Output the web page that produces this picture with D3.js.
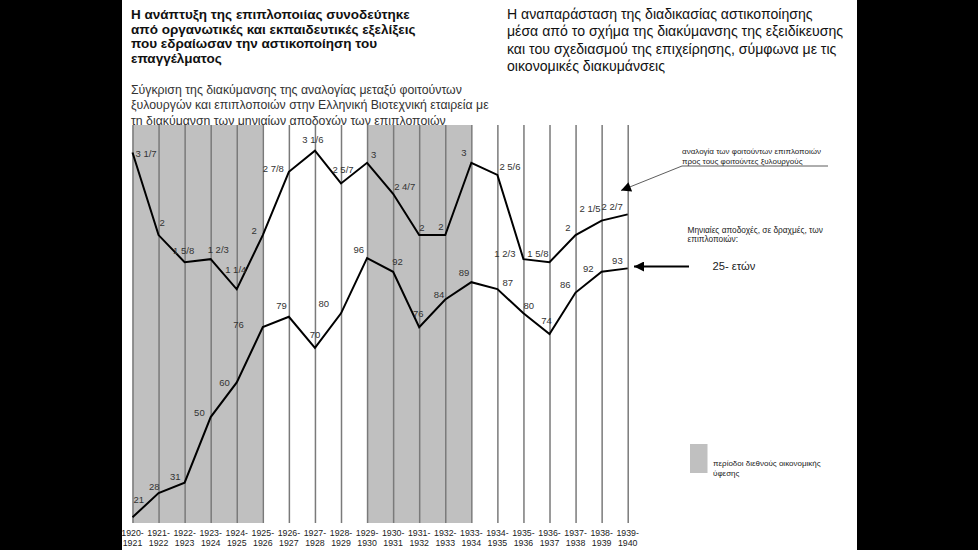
<!DOCTYPE html>
<html><head><meta charset="utf-8">
<script src="https://cdn.jsdelivr.net/npm/d3@7"></script>
<style>
html,body{margin:0;padding:0;background:#000;}
svg{display:block;font-family:"Liberation Sans",Arial,sans-serif;}
</style></head>
<body>
<svg id="chart" width="978" height="550"></svg>
<script>
// ---------- data ----------
const categories = ["1920-1921","1921-1922","1922-1923","1923-1924","1924-1925","1925-1926","1926-1927","1927-1928","1928-1929","1929-1930","1930-1931","1931-1932","1932-1933","1933-1934","1934-1935","1935-1936","1936-1937","1937-1938","1938-1939","1939-1940"];
const ratioLabels = ["3 1/7","2","1 5/8","1 2/3","1 1/4","2","2 7/8","3 1/6","2 5/7","3","2 4/7","2","2","3","2 5/6","1 2/3","1 5/8","2","2 1/5","2 2/7"];
const ratioValues = [3.143,2,1.625,1.667,1.25,2,2.875,3.167,2.714,3,2.571,2,2,3,2.833,1.667,1.625,2,2.2,2.286];
const wageValues = [21,28,31,50,60,76,79,70,80,96,92,76,84,89,87,80,74,86,92,93];
const recessions = [["1920-1921","1925-1926"],["1929-1930","1933-1934"]];

const titleLeft = ["Η ανάπτυξη της επιπλοποιίας συνοδεύτηκε","από οργανωτικές και εκπαιδευτικές εξελίξεις","που εδραίωσαν την αστικοποίηση του","επαγγέλματος"];
const subtitle = ["Σύγκριση της διακύμανσης της αναλογίας μεταξύ φοιτούντων","ξυλουργών και επιπλοποιών στην Ελληνική Βιοτεχνική εταιρεία με","τη διακύμανση των μηνιαίων αποδοχών των επιπλοποιών"];
const titleRight = ["Η αναπαράσταση της διαδικασίας αστικοποίησης","μέσα από το σχήμα της διακύμανσης της εξειδίκευσης","και του σχεδιασμού της επιχείρησης, σύμφωνα με τις","οικονομικές διακυμάνσεις"];
const ratioNote = ["αναλογία των φοιτούντων επιπλοποιών","προς τους φοιτούντες ξυλουργούς"];
const wageNote = ["Μηνιαίες αποδοχές, σε δραχμές, των","επιπλοποιών:"];
const wageNote2 = "25-  ετών";
const legendText = ["περίοδοι διεθνούς οικονομικής","ύφεσης"];

// ---------- layout (label placement relative to points) ----------
const ratioLabelPos = [["start",3,1],["start",1,-13],["middle",-1,-12],["start",-3,-10],["middle",-1,-20],["end",-6,-5],["end",-5,-3],["middle",-2,-11],["middle",2,-14],["start",4,-8],["start",1,-7],["start",0,-8],["start",-7,-9],["start",-10,-10],["start",2,-8],["end",-8,-6],["end",-1,-9],["end",-5,-8],["end",-1,-12],["end",-5,-8]];
const wageLabelPos = [["start",1,-18],["end",1,-7],["end",-4,-6],["end",-6,-5],["end",-7,0],["end",-19,-3],["end",-2,-11],["middle",0,-13],["end",-12,-10],["end",-3,-9],["start",-1,-10],["middle",-1,-14],["end",-1,-5],["end",-2,-10],["start",5,-7],["start",0,-8],["middle",-3,-14],["end",-5,-8],["end",-8,-3],["end",-5,-8]];

const svg = d3.select("#chart");
// slide background
svg.append("rect").attr("x",0).attr("y",0).attr("width",978).attr("height",550).attr("fill","#000");
svg.append("rect").attr("x",122).attr("y",0).attr("width",735).attr("height",550).attr("fill","#fff");

// titles
const tl = svg.append("text").attr("font-size",13.5).attr("font-weight","bold").attr("fill","#111");
titleLeft.forEach((t,i)=>tl.append("tspan").attr("x",131).attr("y",19+i*14.5).text(t));
const st = svg.append("text").attr("font-size",12.3).attr("fill","#333");
subtitle.forEach((t,i)=>st.append("tspan").attr("x",131).attr("y",93.5+i*15.5).text(t));
const tr = svg.append("text").attr("font-size",14.1).attr("fill","#111");
titleRight.forEach((t,i)=>tr.append("tspan").attr("x",507).attr("y",19+i*17.4).text(t));

// scales
const plotTop = 125, plotBottom = 523;
const x = d3.scalePoint().domain(categories).range([132.5, 627.7]);
const yRatio = d3.scaleLinear().domain([1.25, 3.167]).range([289.3, 150.7]);
const yWage = d3.scaleLinear().domain([21, 96]).range([517.3, 258]);

// plot background covering the subtitle's lower edge
svg.append("rect").attr("x",128).attr("y",plotTop).attr("width",505).attr("height",plotBottom-plotTop).attr("fill","#fff");

// recession shading
svg.selectAll("rect.rec").data(recessions).join("rect").attr("class","rec")
  .attr("x",d=>x(d[0])).attr("width",d=>x(d[1])-x(d[0]))
  .attr("y",plotTop).attr("height",plotBottom-plotTop).attr("fill","#c0c0c0");

// vertical grid lines via axis
const xAxis = d3.axisBottom(x).tickSize(plotBottom-plotTop).tickFormat("");
const gx = svg.append("g").attr("transform",`translate(0,${plotTop})`).call(xAxis);
gx.select(".domain").remove();
gx.selectAll(".tick line").attr("stroke","#7a7a7a").attr("stroke-width",1.5);

// tick labels (two lines)
const tickG = svg.append("g");
categories.forEach(c=>{
  const parts = c.split("-");
  const t = tickG.append("text").attr("text-anchor","middle").attr("font-size",8.8).attr("fill","#222");
  t.append("tspan").attr("x",x(c)).attr("y",535.5).text(parts[0]+"-");
  t.append("tspan").attr("x",x(c)).attr("y",545.5).text(parts[1]);
});

// lines
const lineR = d3.line().x((d,i)=>x(categories[i])).y(d=>yRatio(d));
const lineW = d3.line().x((d,i)=>x(categories[i])).y(d=>yWage(d));
svg.append("path").attr("d",lineR(ratioValues)).attr("fill","none").attr("stroke","#000").attr("stroke-width",2).attr("stroke-linejoin","miter");
svg.append("path").attr("d",lineW(wageValues)).attr("fill","none").attr("stroke","#000").attr("stroke-width",2).attr("stroke-linejoin","miter");

// value labels
svg.append("g").selectAll("text").data(ratioValues).join("text")
  .attr("x",(d,i)=>x(categories[i])+ratioLabelPos[i][1])
  .attr("y",(d,i)=>yRatio(d)+ratioLabelPos[i][2])
  .attr("text-anchor",(d,i)=>ratioLabelPos[i][0])
  .attr("dominant-baseline","central")
  .attr("font-size",9.5).attr("fill","#333")
  .text((d,i)=>ratioLabels[i]);
svg.append("g").selectAll("text").data(wageValues).join("text")
  .attr("x",(d,i)=>x(categories[i])+wageLabelPos[i][1])
  .attr("y",(d,i)=>yWage(d)+wageLabelPos[i][2])
  .attr("text-anchor",(d,i)=>wageLabelPos[i][0])
  .attr("dominant-baseline","central")
  .attr("font-size",9.5).attr("fill","#333")
  .text(d=>d);

// arrow marker
const defs = svg.append("defs");
defs.append("marker").attr("id","arr").attr("viewBox","0 0 10 10").attr("refX",10).attr("refY",5)
  .attr("markerWidth",12).attr("markerHeight",10).attr("markerUnits","userSpaceOnUse").attr("orient","auto")
  .append("path").attr("d","M0,0L10,5L0,10Z").attr("fill","#000");

// ratio annotation
const rn = svg.append("text").attr("font-size",8).attr("fill","#222");
ratioNote.forEach((t,i)=>rn.append("tspan").attr("x",682).attr("y",153.5+i*10).text(t));
svg.append("line").attr("x1",682).attr("y1",166).attr("x2",828).attr("y2",166).attr("stroke","#333").attr("stroke-width",0.8);
svg.append("line").attr("x1",682).attr("y1",166).attr("x2",621).attr("y2",190.5).attr("stroke","#333").attr("stroke-width",0.8).attr("marker-end","url(#arr)");

// wage annotation
const wn = svg.append("text").attr("font-size",8.3).attr("fill","#222");
wageNote.forEach((t,i)=>wn.append("tspan").attr("x",687.5).attr("y",232.5+i*9.5).text(t));
svg.append("text").attr("x",712.5).attr("y",270).attr("font-size",11.2).attr("fill","#222").text(wageNote2);
svg.append("line").attr("x1",689).attr("y1",266.5).attr("x2",634).attr("y2",266.5).attr("stroke","#000").attr("stroke-width",1.8).attr("marker-end","url(#arr)");

// legend
svg.append("rect").attr("x",690).attr("y",444).attr("width",17.5).attr("height",29).attr("fill","#c0c0c0");
const lg = svg.append("text").attr("font-size",8).attr("fill","#222");
legendText.forEach((t,i)=>lg.append("tspan").attr("x",713).attr("y",466+i*9.5).text(t));
</script>
</body></html>
